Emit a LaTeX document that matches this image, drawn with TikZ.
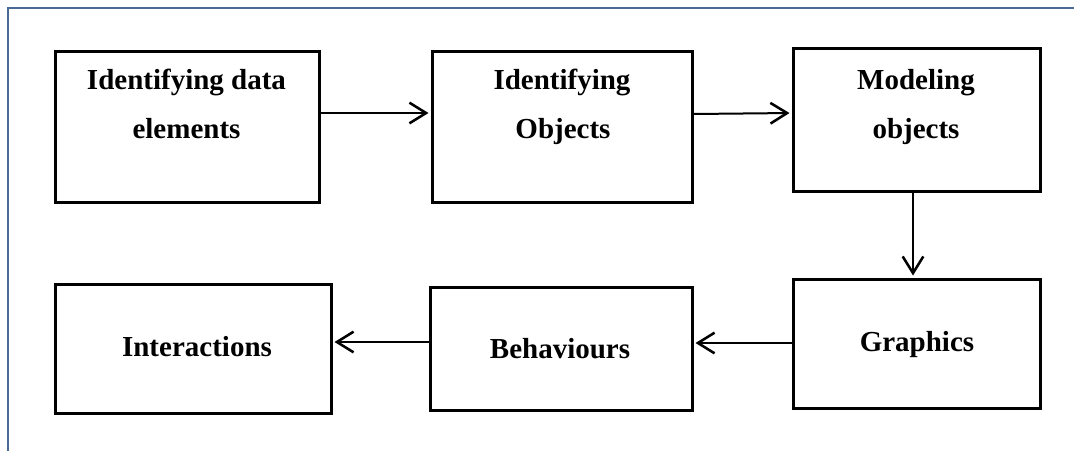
\documentclass[tikz,border=0pt]{standalone}
\usepackage{fontspec}
\setmainfont{Liberation Serif}
\usetikzlibrary{arrows.meta}
\definecolor{framecol}{HTML}{4A6A96}
\tikzset{
  box/.style={draw=black, line width=2.25pt, inner sep=0pt},
  arr/.style={draw=black, line width=1.5pt, -{Straight Barb[length=12.5pt,width=15.5pt,line width=1.9pt]}, shorten >=1.5pt},
  lbl/.style={anchor=base, inner sep=0pt, font=\fontsize{21.75}{26}\selectfont\bfseries},
}
\begin{document}
\begin{tikzpicture}[x=0.75pt,y=-0.75pt]
\useasboundingbox (0,0) rectangle (1074,451);
% frame
\draw[framecol, line width=1.1pt] (8,451) -- (8,8) -- (1074,8);
% boxes
\node[box, minimum width=198pt, minimum height=113.25pt] (b1) at (187,126.5) {};
\node[box, minimum width=195pt, minimum height=113.25pt] (b2) at (562,126.5) {};
\node[box, minimum width=185.25pt, minimum height=107.25pt] (b3) at (916.5,119.5) {};
\node[box, minimum width=185.25pt, minimum height=96.75pt] (b4) at (916.5,343.5) {};
\node[box, minimum width=196.5pt, minimum height=92.25pt] (b5) at (561,348.5) {};
\node[box, minimum width=207pt, minimum height=96.75pt] (b6) at (193,348.5) {};
% labels
\node[lbl] (t1a) at (186.5,89) {Identifying data};
\node[lbl] (t1b) at (186.5,138) {elements};
\node[lbl] (t2a) at (562,89) {Identifying};
\node[lbl] (t2b) at (563,138) {Objects};
\node[lbl] (t3a) at (916,89) {Modeling};
\node[lbl] (t3b) at (916,138) {objects};
\node[lbl] (t4) at (917,351) {Graphics};
\node[lbl] (t5) at (560,358) {Behaviours};
\node[lbl] (t6) at (197,356) {Interactions};
% connector coordinates
\coordinate (ya) at (0,113);
\coordinate (yb1) at (0,114);
\coordinate (yb2) at (0,113);
\coordinate (xc) at (913,0);
\coordinate (yd) at (0,343);
\coordinate (ye) at (0,342);
% connectors
\draw[arr] (b1.east |- ya) -- (b2.west |- ya);
\draw[arr] (b2.east |- yb1) -- (b3.west |- yb2);
\draw[arr] (b3.south -| xc) -- (b4.north -| xc);
\draw[arr] (b4.west |- yd) -- (b5.east |- yd);
\draw[arr] (b5.west |- ye) -- (b6.east |- ye);
\end{tikzpicture}
\end{document}
